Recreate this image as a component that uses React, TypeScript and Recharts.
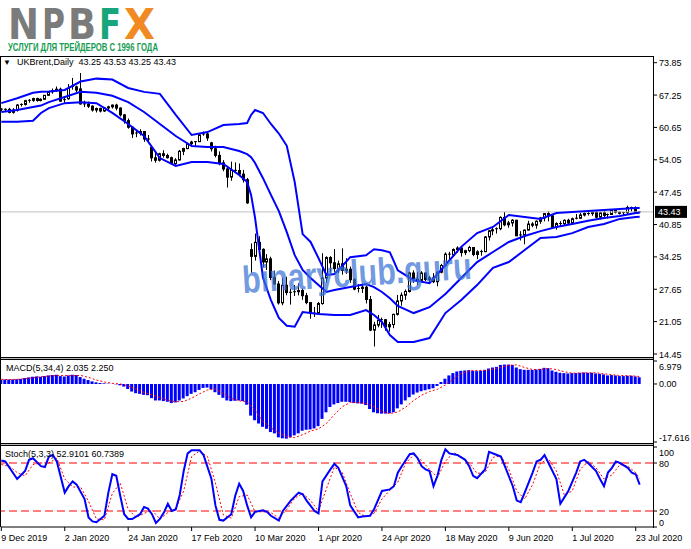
import React from 'react';
import { ComposedChart, Bar, Line, XAxis, YAxis, ReferenceLine } from 'recharts';

// UKBrent daily, 9 Dec 2019 .. 24 Jul 2020, one row per bar: [open, high, low, close]
const candles: [number, number, number, number][] = [
  [64.39, 64.57, 63.95, 64.25], [64.25, 64.54, 63.8, 64.34], [64.34, 64.65, 63.53, 63.72], [63.72, 64.59, 63.46, 64.2],
  [64.2, 65.4, 63.88, 65.22], [65.22, 65.55, 64.91, 65.34], [65.34, 66.28, 65.1, 66.1], [66.1, 66.43, 65.67, 66.17],
  [66.17, 66.7, 65.88, 66.54], [66.54, 66.72, 65.9, 66.14], [66.14, 66.57, 65.95, 66.39], [66.39, 67.26, 66.3, 67.2],
  [67.2, 67.97, 67.13, 67.92], [67.92, 68.58, 67.52, 68.16], [68.16, 68.99, 67.97, 68.44], [68.44, 68.76, 65.89, 66.0],
  [66.3, 67.0, 65.62, 66.25], [66.5, 69.5, 66.3, 68.6], [69.0, 70.74, 68.35, 68.91], [68.91, 69.18, 67.8, 68.27],
  [68.5, 71.75, 65.3, 65.44], [65.44, 66.1, 64.8, 65.37], [65.37, 65.92, 64.61, 64.98], [64.98, 65.18, 63.89, 64.2],
  [64.2, 64.7, 63.7, 64.49], [64.49, 64.7, 63.7, 64.0], [64.0, 64.83, 63.82, 64.62], [64.62, 65.07, 64.2, 64.85],
  [64.85, 65.34, 64.5, 65.2], [65.2, 65.48, 64.13, 64.59], [64.59, 64.77, 62.87, 63.21], [63.21, 63.37, 61.41, 62.04],
  [62.04, 62.47, 60.4, 60.69], [60.69, 60.8, 58.5, 59.32], [59.32, 60.0, 58.66, 59.51], [59.51, 60.28, 59.0, 59.81],
  [59.81, 59.91, 57.71, 58.29], [58.29, 59.1, 57.5, 58.16], [56.6, 56.9, 53.71, 54.45], [54.45, 55.52, 53.47, 53.96],
  [53.96, 55.48, 53.7, 55.28], [55.28, 56.0, 54.5, 54.93], [54.93, 55.3, 54.3, 54.47], [54.47, 54.7, 53.1, 53.27],
  [53.27, 54.38, 53.05, 54.01], [54.01, 56.06, 53.9, 55.79], [55.79, 56.5, 55.0, 56.34], [56.34, 57.45, 56.2, 57.32],
  [57.32, 57.93, 57.03, 57.67], [57.67, 57.89, 56.89, 57.75], [57.75, 59.3, 57.7, 59.12], [59.12, 59.81, 58.95, 59.31],
  [59.31, 59.71, 57.91, 58.5], [57.5, 57.7, 55.74, 56.3], [56.3, 56.93, 54.54, 54.95], [54.95, 55.77, 52.94, 53.43],
  [53.43, 53.98, 51.72, 52.18], [52.18, 52.7, 48.4, 50.52], [50.52, 53.68, 49.78, 51.9], [51.9, 53.53, 51.47, 51.86],
  [51.86, 53.3, 50.7, 51.13], [51.13, 52.0, 49.4, 49.99], [49.99, 50.35, 45.06, 45.27], [35.73, 37.0, 31.02, 34.36],
  [34.36, 39.0, 33.5, 37.22], [37.22, 38.47, 35.29, 35.79], [35.79, 36.0, 32.11, 33.22], [33.22, 34.81, 31.57, 33.85],
  [33.85, 34.3, 29.52, 30.05], [30.05, 31.45, 28.58, 28.73], [28.73, 29.33, 24.52, 24.88], [24.88, 30.0, 24.4, 28.47],
  [28.47, 30.2, 26.42, 26.98], [26.98, 27.8, 24.52, 27.03], [27.03, 28.53, 26.27, 27.15], [27.15, 28.88, 26.4, 27.39],
  [27.39, 27.8, 25.5, 26.34], [26.34, 26.91, 24.6, 24.93], [24.93, 25.0, 21.65, 22.76], [22.76, 24.06, 22.0, 22.74],
  [22.74, 25.07, 22.6, 24.74], [24.74, 35.0, 24.5, 29.94], [29.94, 34.38, 29.0, 34.11], [34.11, 34.4, 31.0, 33.05],
  [33.05, 35.84, 31.2, 31.87], [31.87, 33.5, 30.94, 32.84], [32.84, 36.0, 30.63, 31.48], [31.48, 33.99, 30.8, 31.74],
  [31.74, 32.28, 28.96, 29.6], [29.6, 29.9, 27.45, 27.69], [27.69, 28.7, 27.0, 27.82], [27.82, 28.8, 26.9, 28.08],
  [28.08, 28.45, 24.76, 25.57], [25.57, 26.28, 19.1, 19.33], [19.33, 21.02, 15.98, 20.37], [20.37, 22.43, 19.9, 21.33],
  [21.33, 21.87, 19.77, 21.44], [21.44, 21.6, 19.2, 19.99], [19.99, 21.0, 19.02, 20.46], [20.46, 22.65, 19.7, 22.54],
  [22.54, 26.5, 22.3, 25.27], [25.27, 27.0, 24.3, 26.44], [26.44, 27.62, 25.5, 27.2], [27.2, 31.23, 27.0, 30.97],
  [30.97, 31.5, 28.95, 29.72], [29.72, 31.15, 28.5, 29.46], [29.46, 31.35, 29.3, 30.97], [30.97, 31.0, 29.33, 29.63],
  [29.63, 30.33, 28.93, 29.98], [29.98, 30.93, 28.9, 29.19], [29.19, 31.33, 28.25, 31.13], [31.13, 32.82, 30.89, 32.5],
  [32.5, 35.17, 32.25, 34.81], [34.81, 35.3, 33.7, 34.65], [34.65, 35.98, 34.3, 35.75], [35.75, 36.4, 35.1, 36.06],
  [36.06, 36.23, 34.32, 35.13], [35.13, 35.7, 34.63, 35.53], [35.53, 36.5, 35.2, 36.17], [36.17, 36.2, 34.41, 34.74],
  [34.74, 35.6, 33.8, 35.29], [35.29, 35.7, 34.5, 35.33], [35.33, 38.5, 35.2, 38.32], [38.32, 39.73, 37.6, 39.57],
  [39.57, 40.3, 38.68, 39.79], [39.79, 40.28, 39.0, 39.99], [39.99, 42.52, 39.7, 42.3], [42.3, 43.41, 40.5, 40.8],
  [40.8, 41.6, 40.2, 41.18], [41.18, 41.95, 40.44, 41.73], [41.73, 41.8, 38.5, 38.55], [38.55, 39.5, 37.6, 38.73],
  [38.73, 39.8, 36.83, 39.72], [39.72, 41.62, 39.6, 40.96], [40.96, 41.33, 40.3, 40.71], [40.71, 41.71, 40.0, 41.51],
  [41.51, 42.4, 41.0, 42.19], [42.19, 43.16, 41.5, 43.08], [43.08, 43.55, 41.5, 42.63], [42.63, 42.8, 40.04, 40.31],
  [40.31, 41.3, 39.8, 41.05], [41.05, 41.54, 40.6, 41.02], [41.02, 41.9, 40.6, 41.71], [41.71, 42.03, 40.98, 41.15],
  [41.15, 42.26, 40.9, 42.03], [42.03, 43.0, 41.9, 42.14], [42.14, 43.2, 42.0, 42.8], [42.8, 43.33, 42.5, 43.1],
  [43.1, 43.6, 42.7, 43.08], [43.08, 43.5, 42.63, 43.29], [43.29, 43.7, 42.1, 42.35], [42.35, 43.4, 41.9, 43.24],
  [43.24, 43.7, 42.4, 42.72], [42.72, 43.09, 42.1, 42.9], [42.9, 43.9, 42.8, 43.79], [43.79, 43.8, 43.1, 43.37],
  [43.37, 43.5, 42.9, 43.14], [43.14, 43.43, 42.6, 43.28], [43.28, 44.7, 43.0, 44.32], [44.32, 44.5, 43.5, 44.29],
  [44.29, 44.56, 43.11, 43.31], [43.25, 43.53, 43.25, 43.43],
];

// bar index of each date label on the time axis
const dateTicks = [0, 16, 32, 48, 64, 80, 96, 112, 128, 144, 160];
const dateLabels = ['9 Dec 2019', '2 Jan 2020', '24 Jan 2020', '17 Feb 2020', '10 Mar 2020', '1 Apr 2020',
  '24 Apr 2020', '18 May 2020', '9 Jun 2020', '1 Jul 2020', '23 Jul 2020'];

const priceTicks = [73.85, 67.25, 60.65, 54.05, 47.45, 40.85, 34.25, 27.65, 21.05, 14.45];
const LAST_PRICE = 43.43;

// Bollinger bands at these bars
const bandIdx = [0, 4, 8, 10, 12, 16, 20, 24, 28, 32, 36, 40, 44, 48, 52, 56, 60, 62, 63, 64, 66, 68, 70, 72, 74, 76,
  78, 80, 82, 84, 86, 88, 92, 94, 96, 98, 100, 104, 108, 112, 116, 120, 124, 128, 132, 136, 140, 144, 148, 152, 156, 160, 161];
const bandUpper = [65.6, 66.6, 67.7, 67.9, 68.0, 68.3, 70.0, 70.6, 70.4, 68.7, 67.9, 67.5, 63.2, 59.1, 59.7, 61.15, 61.35,
  61.55, 63.2, 64.2, 63.6, 61.35, 59.4, 56.9, 49.5, 38.9, 37.3, 34.0, 30.55, 30.75, 32.4, 34.2, 34.6, 35.8, 35.6, 35.2,
  31.5, 29.5, 28.9, 32.6, 36.3, 39.1, 40.35, 42.8, 42.4, 42.0, 43.2, 43.4, 43.6, 43.8, 44.0, 44.2, 44.2];
const bandMid = [63.8, 64.2, 64.8, 65.1, 65.8, 66.85, 67.9, 67.7, 67.1, 65.8, 63.8, 61.35, 58.9, 56.85, 56.65, 56.65, 55.85,
  55.2, 54.6, 53.4, 50.3, 46.9, 43.6, 39.3, 34.6, 31.6, 29.95, 28.5, 27.1, 27.5, 27.8, 28.1, 28.7, 28.1, 27.1, 25.8,
  24.25, 22.8, 24.0, 26.7, 29.95, 33.2, 35.25, 37.3, 38.5, 39.5, 40.35, 40.95, 41.6, 42.2, 42.6, 43.2, 43.25];
const bandLower = [61.8, 61.8, 62.0, 63.6, 64.6, 65.6, 65.8, 65.6, 63.6, 61.35, 58.9, 54.4, 52.8, 53.6, 53.6, 53.2, 50.95,
  49.5, 46.9, 42.2, 30.0, 25.45, 21.8, 20.2, 20.0, 23.0, 22.8, 22.6, 22.5, 22.4, 22.4, 22.4, 23.4, 22.4, 21.0, 18.3,
  16.9, 16.9, 17.7, 22.8, 25.45, 28.5, 32.0, 33.2, 35.65, 38.1, 38.3, 39.1, 40.35, 40.95, 42.0, 42.4, 42.45];

// MACD(5,34,4) histogram, one value per bar
const macdHist = [
  1.3, 1.35, 1.35, 1.4, 1.45, 1.55, 1.8, 2.0, 2.2, 2.3, 2.2, 2.4, 2.6, 2.7, 2.8, 2.4,
  2.3, 2.6, 2.8, 2.7, 2.1, 1.6, 1.2, 0.8, 0.5, 0.3, 0.2, 0.1, 0.05, -0.1, -0.4, -0.8,
  -1.5, -2.3, -2.8, -3.0, -3.3, -3.4, -4.3, -5.0, -5.0, -5.2, -5.4, -5.8, -5.6, -5.0, -4.4, -3.7,
  -3.0, -2.5, -1.8, -1.2, -1.1, -1.6, -2.5, -3.3, -4.2, -5.0, -5.2, -5.1, -5.0, -5.2, -6.3, -9.6,
  -11.0, -12.0, -13.0, -13.6, -14.6, -15.0, -16.2, -16.5, -16.6, -16.2, -15.6, -15.0, -14.2, -13.9, -13.8, -13.5,
  -12.8, -10.6, -8.6, -7.0, -6.2, -5.8, -5.4, -5.4, -5.5, -5.8, -5.9, -6.0, -6.4, -7.6, -8.6, -8.9,
  -9.0, -9.0, -8.9, -8.6, -7.4, -6.2, -5.0, -4.0, -3.2, -2.6, -2.2, -1.9, -1.6, -1.3, -0.6, 0.6,
  1.6, 2.6, 3.3, 3.8, 4.0, 4.1, 4.2, 4.0, 3.9, 4.0, 4.3, 4.7, 5.0, 5.2, 5.8, 5.9,
  5.9, 5.8, 5.0, 4.5, 4.3, 4.3, 4.3, 4.4, 4.6, 4.9, 4.8, 4.1, 3.7, 3.4, 3.3, 3.2,
  3.3, 3.3, 3.4, 3.5, 3.4, 3.4, 3.2, 3.1, 2.9, 2.6, 2.7, 2.6, 2.4, 2.4, 2.5, 2.5,
  2.3, 2.035,
];
// MACD signal line: [bar, value]
const macdSignal: [number, number][] = [
  [0, 1.4], [2, 1.35], [4, 1.4], [6, 1.6], [8, 1.9], [10, 2.2], [12, 2.4], [14, 2.6], [16, 2.6], [18, 2.5], [20, 2.6],
  [22, 2.0], [24, 1.2], [26, 0.6], [28, 0.2], [30, 0.0], [32, -0.6], [34, -1.5], [36, -2.6], [38, -3.3], [40, -4.1],
  [42, -5.0], [44, -5.4], [46, -5.3], [48, -4.3], [50, -3.0], [52, -1.8], [54, -1.5], [56, -2.9], [58, -4.4], [60, -5.1],
  [62, -5.4], [64, -8.0], [66, -11.4], [68, -13.3], [70, -14.8], [72, -16.0], [74, -16.3], [76, -15.4], [78, -14.3],
  [80, -13.6], [82, -12.0], [84, -9.3], [86, -6.9], [88, -5.6], [90, -5.6], [92, -5.9], [94, -6.9], [96, -8.4], [98, -9.0],
  [100, -8.5], [102, -7.0], [104, -5.0], [106, -3.4], [108, -2.3], [110, -1.6], [112, -0.3], [114, 1.5], [116, 3.2],
  [118, 4.0], [120, 4.1], [122, 4.1], [124, 4.5], [126, 5.1], [128, 5.7], [130, 5.8], [132, 5.0], [134, 4.4], [136, 4.4],
  [138, 4.7], [140, 4.4], [142, 3.7], [144, 3.3], [146, 3.3], [148, 3.4], [150, 3.4], [152, 3.1], [154, 2.8], [156, 2.6],
  [158, 2.5], [160, 2.4], [161, 2.25],
];

// Stochastic(5,3,3): [bar, value]
const stochMain: [number, number][] = [
  [0, 83], [1, 82], [4, 60], [6, 70], [7, 84], [8, 86], [10, 76], [11, 75], [12, 88], [13, 90], [14, 82], [16, 43], [17, 51],
  [18, 57], [19, 53], [21, 35], [22, 12], [23, 7], [24, 6], [26, 14], [27, 43], [28, 66], [29, 64], [30, 39], [31, 16],
  [32, 10], [33, 10], [35, 16], [36, 25], [37, 23], [38, 16], [39, 5], [40, 10], [41, 18], [42, 29], [43, 20], [44, 22],
  [45, 40], [46, 70], [47, 92], [48, 96], [50, 96], [51, 90], [53, 60], [54, 27], [55, 9], [56, 8], [58, 16], [59, 39],
  [60, 54], [61, 45], [62, 27], [63, 12], [64, 19], [66, 21], [67, 19], [68, 14], [70, 8], [71, 20], [73, 33], [75, 43],
  [76, 41], [77, 33], [79, 20], [80, 17], [81, 57], [83, 72], [84, 79], [85, 74], [87, 51], [88, 27], [90, 12], [91, 13],
  [93, 14], [94, 22], [96, 45], [98, 47], [99, 51], [100, 68], [101, 76], [103, 91], [104, 92], [105, 86], [106, 76],
  [107, 72], [108, 70], [109, 51], [110, 64], [111, 84], [112, 97], [113, 92], [115, 90], [117, 84], [118, 76], [119, 64],
  [120, 61], [122, 72], [123, 94], [125, 90], [126, 88], [127, 76], [129, 51], [130, 33], [131, 31], [132, 43], [134, 68],
  [135, 82], [136, 84], [137, 90], [138, 80], [140, 60], [141, 29], [142, 37], [143, 45], [145, 68], [146, 82], [147, 84],
  [148, 80], [150, 70], [151, 60], [152, 51], [153, 68], [154, 74], [155, 82], [156, 80], [158, 74], [159, 68], [160, 66],
  [161, 52.9],
];
const stochSignal: [number, number][] = [
  [0, 78], [2, 76], [4, 68], [6, 64], [8, 78], [10, 80], [12, 80], [14, 86], [16, 60], [18, 50], [20, 50], [22, 32],
  [24, 10], [26, 9], [28, 42], [30, 55], [32, 22], [34, 12], [36, 17], [38, 21], [40, 10], [42, 18], [44, 23], [46, 45],
  [48, 88], [50, 95], [52, 88], [54, 55], [56, 15], [58, 11], [60, 38], [62, 40], [64, 19], [66, 19], [68, 18], [70, 11],
  [72, 22], [74, 36], [76, 42], [78, 33], [80, 20], [82, 48], [84, 75], [86, 68], [88, 42], [90, 18], [92, 13], [94, 17],
  [96, 35], [98, 46], [100, 56], [102, 80], [104, 90], [106, 83], [108, 72], [110, 62], [112, 82], [114, 93], [116, 88],
  [118, 80], [120, 67], [122, 68], [124, 87], [126, 89], [128, 72], [130, 45], [132, 35], [134, 53], [136, 80], [138, 85],
  [140, 70], [142, 40], [144, 45], [146, 72], [148, 82], [150, 74], [152, 60], [154, 65], [156, 78], [158, 76], [160, 68],
  [161, 60.7],
];

// logo letters and their colours
const logoLetters = ['N', 'P', 'B', 'F', 'X'];
const logoColors = ['#7b7b7b', '#7b7b7b', '#7b7b7b', '#17a57b', '#f28a24'];
const logoX = [8, 42, 68, 99, 124];
const logoW = [31, 23, 28, 22, 31];

type Row = {
  i: number; o: number; h: number; l: number; c: number; m: number;
  up?: number; mid?: number; lo?: number; ms?: number; k?: number; d?: number;
};

const rows: Row[] = candles.map(([o, h, l, c], i) => ({ i, o, h, l, c, m: macdHist[i] }));
bandIdx.forEach((idx, j) => {
  rows[idx].up = bandUpper[j];
  rows[idx].mid = bandMid[j];
  rows[idx].lo = bandLower[j];
});
macdSignal.forEach(([idx, v]) => { rows[idx].ms = v; });
stochMain.forEach(([idx, v]) => { rows[idx].k = v; });
stochSignal.forEach(([idx, v]) => { rows[idx].d = v; });

const W = 691;
const PLOT_R = 653;
const X_DOMAIN: [number, number] = [-0.076, 164.36];
const FONT = "'Liberation Sans', Arial, sans-serif";
const BLUE = '#0000FF';
const RED = '#FF0000';

const Candle = (props: any) => {
  const { x, y, width, height, payload } = props;
  if (!payload) return null;
  const { o, h, l, c } = payload as Row;
  const top = Math.min(y, y + height);
  const hh = Math.abs(height);
  const py = (v: number) => (h === l ? top : top + ((h - v) / (h - l)) * hh);
  const cx = Math.round(x + width / 2) + 0.5;
  const bTop = py(Math.max(o, c));
  const bBot = py(Math.min(o, c));
  const bull = c > o;
  return (
    <g>
      <line x1={cx} x2={cx} y1={top} y2={top + hh} stroke="#000" strokeWidth={1} />
      {Math.abs(bBot - bTop) < 1 ? (
        <line x1={cx - 1.5} x2={cx + 1.5} y1={bTop} y2={bTop} stroke="#000" />
      ) : (
        <rect x={cx - 1} y={bTop} width={2} height={bBot - bTop} fill={bull ? '#fff' : '#000'} stroke="#000" strokeWidth={1} />
      )}
    </g>
  );
};

const PriceTick = ({ y, payload }: any) => {
  const v = payload.value as number;
  if (v === LAST_PRICE) {
    return (
      <g>
        <rect x={655} y={y - 6} width={32} height={12} fill="#000" />
        <text x={658} y={y + 3.5} fontSize={9} fontFamily={FONT} fill="#fff">{v.toFixed(2)}</text>
      </g>
    );
  }
  return (
    <g>
      <line x1={PLOT_R} x2={PLOT_R + 4} y1={y} y2={y} stroke="#000" />
      <text x={659} y={y + 3.5} fontSize={9} fontFamily={FONT} fill="#000">{v.toFixed(2)}</text>
    </g>
  );
};

// indicator window labels: the top and bottom ones are pushed inside the window
const makeSideTick = (fmt: (v: number) => string, max: number, min: number) => ({ y, payload }: any) => {
  const v = payload.value as number;
  const dy = v === max ? 5.5 : v === min ? -5 : 0;
  return (
    <g>
      <line x1={PLOT_R} x2={PLOT_R + 4} y1={y} y2={y} stroke="#000" />
      <text x={659} y={y + dy + 3.5} fontSize={9} fontFamily={FONT} fill="#000">{fmt(v)}</text>
    </g>
  );
};

const MACD_MAX = 6.979;
const MACD_MIN = -17.616;
const MacdTick = makeSideTick((v) => (v === 0 ? '0.00' : v.toFixed(3)), MACD_MAX, MACD_MIN);
const StochTick = makeSideTick((v) => String(v), 100, 0);

const STOCH_TOP = 444;
const AXIS_Y = 527 - STOCH_TOP;

const DateTick = ({ x, payload }: any) => {
  const label = dateLabels[dateTicks.indexOf(payload.value)];
  return (
    <g>
      <line x1={x} x2={x} y1={AXIS_Y} y2={AXIS_Y + 4} stroke="#000" />
      <text x={x} y={AXIS_Y + 14} fontSize={9} fontFamily={FONT} fill="#000">{label}</text>
    </g>
  );
};

const hline = (top: number, color: string, key: string) => (
  <div key={key} style={{ position: 'absolute', left: 0, top, width: PLOT_R + 1, height: 1, background: color }} />
);

export default function App() {
  return (
    <div style={{ position: 'absolute', left: 0, top: 0, width: W, height: 549, background: '#fff', overflow: 'hidden', fontFamily: FONT }}>
      {/* logo */}
      <svg width={200} height={56} style={{ position: 'absolute', left: 0, top: 0 }}>
        {logoLetters.map((ch, j) => (
          <text key={ch} x={logoX[j]} y={39} fill={logoColors[j]} fontFamily="'DejaVu Sans', sans-serif" fontWeight={700}
            fontSize={42} textLength={logoW[j]} lengthAdjust="spacingAndGlyphs">{ch}</text>
        ))}
        <text x={8} y={51} fontFamily="'Liberation Sans', sans-serif" fontWeight={700} fontSize={10.5} fill="#169c52" textLength={150} lengthAdjust="spacingAndGlyphs">
          УСЛУГИ ДЛЯ ТРЕЙДЕРОВ С 1996 ГОДА
        </text>
      </svg>

      {/* main price window */}
      <div style={{ position: 'absolute', left: 0, top: 0 }}>
        <ComposedChart width={W} height={360} data={rows} margin={{ top: 57, right: 0, bottom: 3, left: 1 }}>
          <XAxis type="number" dataKey="i" domain={X_DOMAIN} hide allowDataOverflow />
          <YAxis orientation="right" width={38} domain={[13.84, 75.01]} allowDataOverflow ticks={[...priceTicks, LAST_PRICE]}
            interval={0} axisLine={false} tickLine={false} tick={<PriceTick />} />
          <ReferenceLine y={LAST_PRICE} stroke="#c0c0c0" strokeWidth={1} />
          <Bar dataKey={(r: Row) => [r.l, r.h]} barSize={3} shape={<Candle />} isAnimationActive={false} />
          <Line dataKey="up" stroke={BLUE} strokeWidth={2} dot={false} connectNulls isAnimationActive={false} />
          <Line dataKey="mid" stroke={BLUE} strokeWidth={2} dot={false} connectNulls isAnimationActive={false} />
          <Line dataKey="lo" stroke={BLUE} strokeWidth={2} dot={false} connectNulls isAnimationActive={false} />
        </ComposedChart>
      </div>

      {/* MACD window */}
      <div style={{ position: 'absolute', left: 0, top: 359 }}>
        <ComposedChart width={W} height={85} data={rows} margin={{ top: 2, right: 0, bottom: 2, left: 1 }}>
          <XAxis type="number" dataKey="i" domain={X_DOMAIN} hide allowDataOverflow />
          <YAxis orientation="right" width={38} domain={[MACD_MIN, MACD_MAX]} allowDataOverflow ticks={[MACD_MAX, 0, MACD_MIN]}
            interval={0} axisLine={false} tickLine={false} tick={<MacdTick />} />
          <Bar dataKey="m" fill={BLUE} barSize={3} isAnimationActive={false} />
          <Line dataKey="ms" stroke={RED} strokeWidth={1} strokeDasharray="2 2" dot={false} connectNulls isAnimationActive={false} />
        </ComposedChart>
      </div>

      {/* Stochastic window + time axis */}
      <div style={{ position: 'absolute', left: 0, top: STOCH_TOP }}>
        <ComposedChart width={W} height={105} data={rows} margin={{ top: 3, right: 0, bottom: 0, left: 1 }}>
          <XAxis type="number" dataKey="i" domain={X_DOMAIN} allowDataOverflow ticks={dateTicks} interval={0} height={22}
            axisLine={{ stroke: '#000' }} tickLine={false} tick={<DateTick />} />
          <YAxis orientation="right" width={38} domain={[0, 100]} allowDataOverflow ticks={[100, 80, 20, 0]}
            interval={0} axisLine={false} tickLine={false} tick={<StochTick />} />
          <ReferenceLine y={80} stroke={RED} strokeDasharray="8 4" />
          <ReferenceLine y={20} stroke={RED} strokeDasharray="8 4" />
          <Line dataKey="d" stroke={RED} strokeWidth={1} strokeDasharray="2 2" dot={false} connectNulls isAnimationActive={false} />
          <Line dataKey="k" stroke={BLUE} strokeWidth={2} dot={false} connectNulls isAnimationActive={false} />
        </ComposedChart>
      </div>

      {/* window frames */}
      {hline(56, '#000', 't')}
      {hline(357, '#000', 'a1')}
      {hline(358, '#b8b8b8', 'a2')}
      {hline(359, '#000', 'a3')}
      {hline(443, '#000', 'b1')}
      {hline(444, '#b8b8b8', 'b2')}
      {hline(445, '#000', 'b3')}
      <div style={{ position: 'absolute', left: 0, top: 56, width: 1, height: 471, background: '#000' }} />
      <div style={{ position: 'absolute', left: PLOT_R, top: 56, width: 1, height: 472, background: '#000' }} />

      {/* window titles */}
      <div style={{ position: 'absolute', left: 3, top: 57, fontSize: 8, lineHeight: '11px', color: '#000' }}>▼</div>
      <div style={{ position: 'absolute', left: 17, top: 57, fontSize: 9, lineHeight: '11px', color: '#000', whiteSpace: 'pre' }}>
        UKBrent,Daily  43.25 43.53 43.25 43.43
      </div>
      <div style={{ position: 'absolute', left: 6, top: 363, fontSize: 9, lineHeight: '11px', color: '#000', whiteSpace: 'pre' }}>
        MACD(5,34,4) 2.035 2.250
      </div>
      <div style={{ position: 'absolute', left: 5, top: 449, fontSize: 9, lineHeight: '11px', color: '#000', whiteSpace: 'pre' }}>
        Stoch(5,3,3) 52.9101 60.7389
      </div>

      {/* watermark */}
      <div style={{
        position: 'absolute', left: 243, top: 261, fontSize: 38, lineHeight: '38px', fontWeight: 700,
        color: 'rgba(60,115,212,0.72)', whiteSpace: 'nowrap', pointerEvents: 'none',
        transform: 'rotate(-3.5deg) scaleX(0.8)', transformOrigin: '0 32px',
      }}>
        binaryclub.guru
      </div>
    </div>
  );
}
